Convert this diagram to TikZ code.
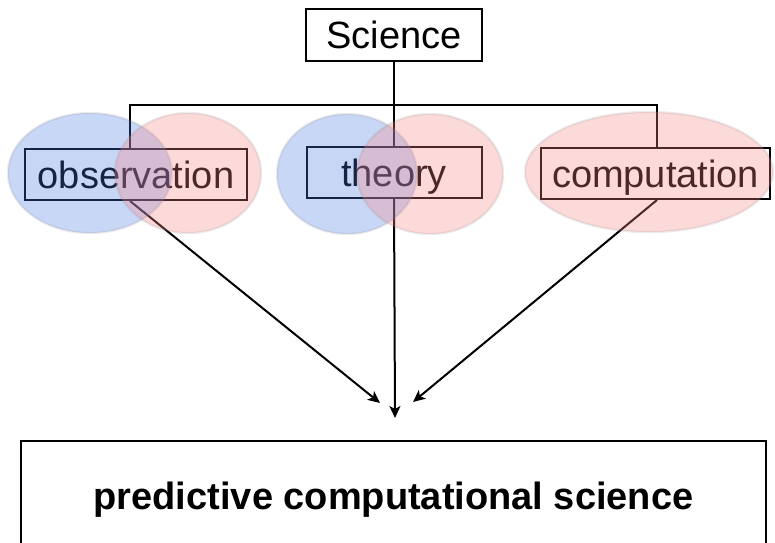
\documentclass[tikz,border=0pt]{standalone}
\usepackage{fontspec}
\setmainfont{Liberation Sans}
\usepackage{xcolor}
\usepackage{tikz}
\usetikzlibrary{arrows.meta, positioning}

\definecolor{blobblue}{RGB}{76,121,227}
\definecolor{blobred}{RGB}{250,133,133}

\begin{document}
\begin{tikzpicture}[
        x=0.5pt, y=-0.5pt,
        font=\fontsize{19}{22}\selectfont,
        box/.style={rectangle, draw, line width=1pt, fill=white, inner sep=0pt, text height=13.6pt, text depth=0pt, align=center},
        arrow/.style={-{Stealth[length=6pt, width=5.5pt, inset=1.5pt]}, line width=1pt},
        link/.style={line width=1pt},
        blueblob/.style={fill=blobblue, fill opacity=0.3, draw=gray, draw opacity=0.15, line width=1.2pt},
        redblob/.style={fill=blobred, fill opacity=0.3, draw=gray, draw opacity=0.15, line width=1.2pt}
    ]
    \useasboundingbox (0,0) rectangle (775,542);

    % Coordinates
    \coordinate (brL) at (130,105);
    \coordinate (brR) at (657,105);
    \coordinate (meetL) at (380,403);
    \coordinate (meet) at (395,418);
    \coordinate (meetR) at (413,402);

    % Nodes
    \node[box, minimum width=88pt, minimum height=26pt] (sci) at (394,35) {Science};
    \node[box, minimum width=111pt, minimum height=25.5pt] (obs) at (136,174.5) {observation};
    \node[box, minimum width=87.5pt, minimum height=25.5pt] (theo) at (394,172.5) {theory};
    \node[box, minimum width=114.5pt, minimum height=25.5pt] (comp) at (655.5,173.5) {computation};
    \node[box, minimum width=372.5pt, minimum height=54.5pt] (pcs) at (393.5,495.5) {\textbf{predictive computational science}};

    % Bracket and lines
    \draw[link] (obs.north -| brL) -- (brL) -- (brR) -- (comp.north -| brR);
    \draw[link] (sci.south) -- (theo.north);

    % Arrows
    \draw[arrow] (theo.south) -- (meet);
    \draw[arrow] (obs.south -| brL) -- (meetL);
    \draw[arrow] (comp.south -| brR) -- (meetR);

    % Overlapping ellipses
    \draw[blueblob] (90,173) ellipse [x radius=82, y radius=60];
    \draw[redblob] (188,173) ellipse [x radius=73, y radius=60];
    \draw[blueblob] (347,174) ellipse [x radius=70, y radius=60];
    \draw[redblob] (430,174) ellipse [x radius=73, y radius=60];
    \draw[redblob] (649,172) ellipse [x radius=124, y radius=60];

\end{tikzpicture}
\end{document}
